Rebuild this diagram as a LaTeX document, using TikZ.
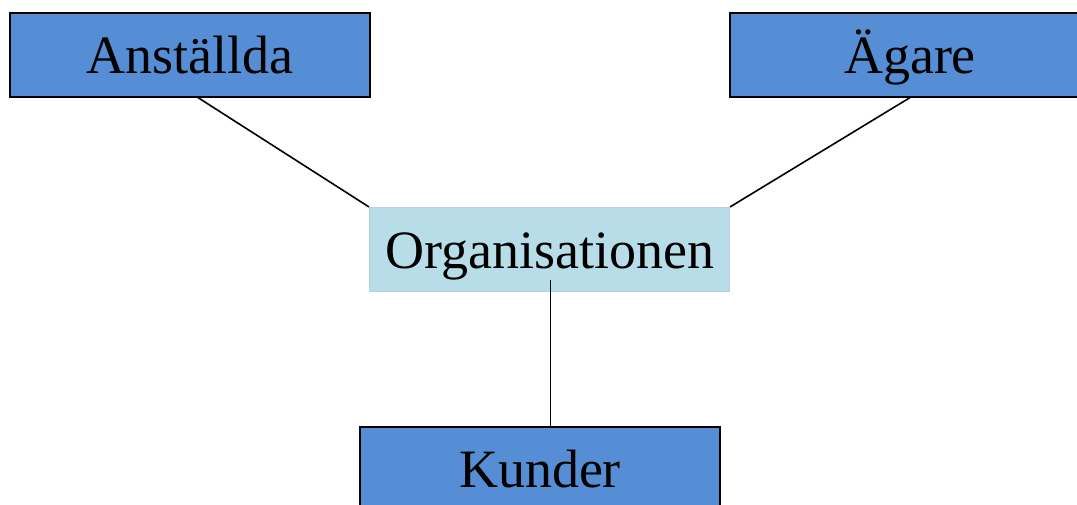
\documentclass[tikz,border=0pt]{standalone}
\usepackage{fontspec}
\setmainfont{Liberation Serif}
\usetikzlibrary{calc}
\usepackage{xcolor}
\definecolor{morkbla}{RGB}{85,142,213}
\definecolor{ljusbla}{RGB}{183,222,232}
\definecolor{ljuskant}{RGB}{185,205,229}

\begin{document}
\begin{tikzpicture}[x=0.5pt,y=-0.5pt,
  boks/.style={draw=black,fill=morkbla,line width=0.6pt,minimum width=180pt,minimum height=42pt,
    inner sep=0pt,text height=18.5pt,text depth=0pt,font=\fontsize{27}{32}\selectfont},
  linje/.style={line width=0.8pt}]
\useasboundingbox (0,0) rectangle (1077,504);
\node[boks] (anst) at (190,55) {Anställda};
\node[boks] (agare) at (910,55) {Ägare};
\node[boks,fill=ljusbla,draw=ljuskant] (org) at (549.5,249.5) {Organisationen};
\node[boks] (kunder) at (540,469) {Kunder};
\coordinate (ostart) at ($(org.south)+(1,-12)$);
\draw[linje] ($(anst.south)+(8,0)$) -- (org.north west);
\draw[linje] (agare.south) -- (org.north east);
\draw[linje] (ostart) -- (ostart |- kunder.north);
\end{tikzpicture}
\end{document}
